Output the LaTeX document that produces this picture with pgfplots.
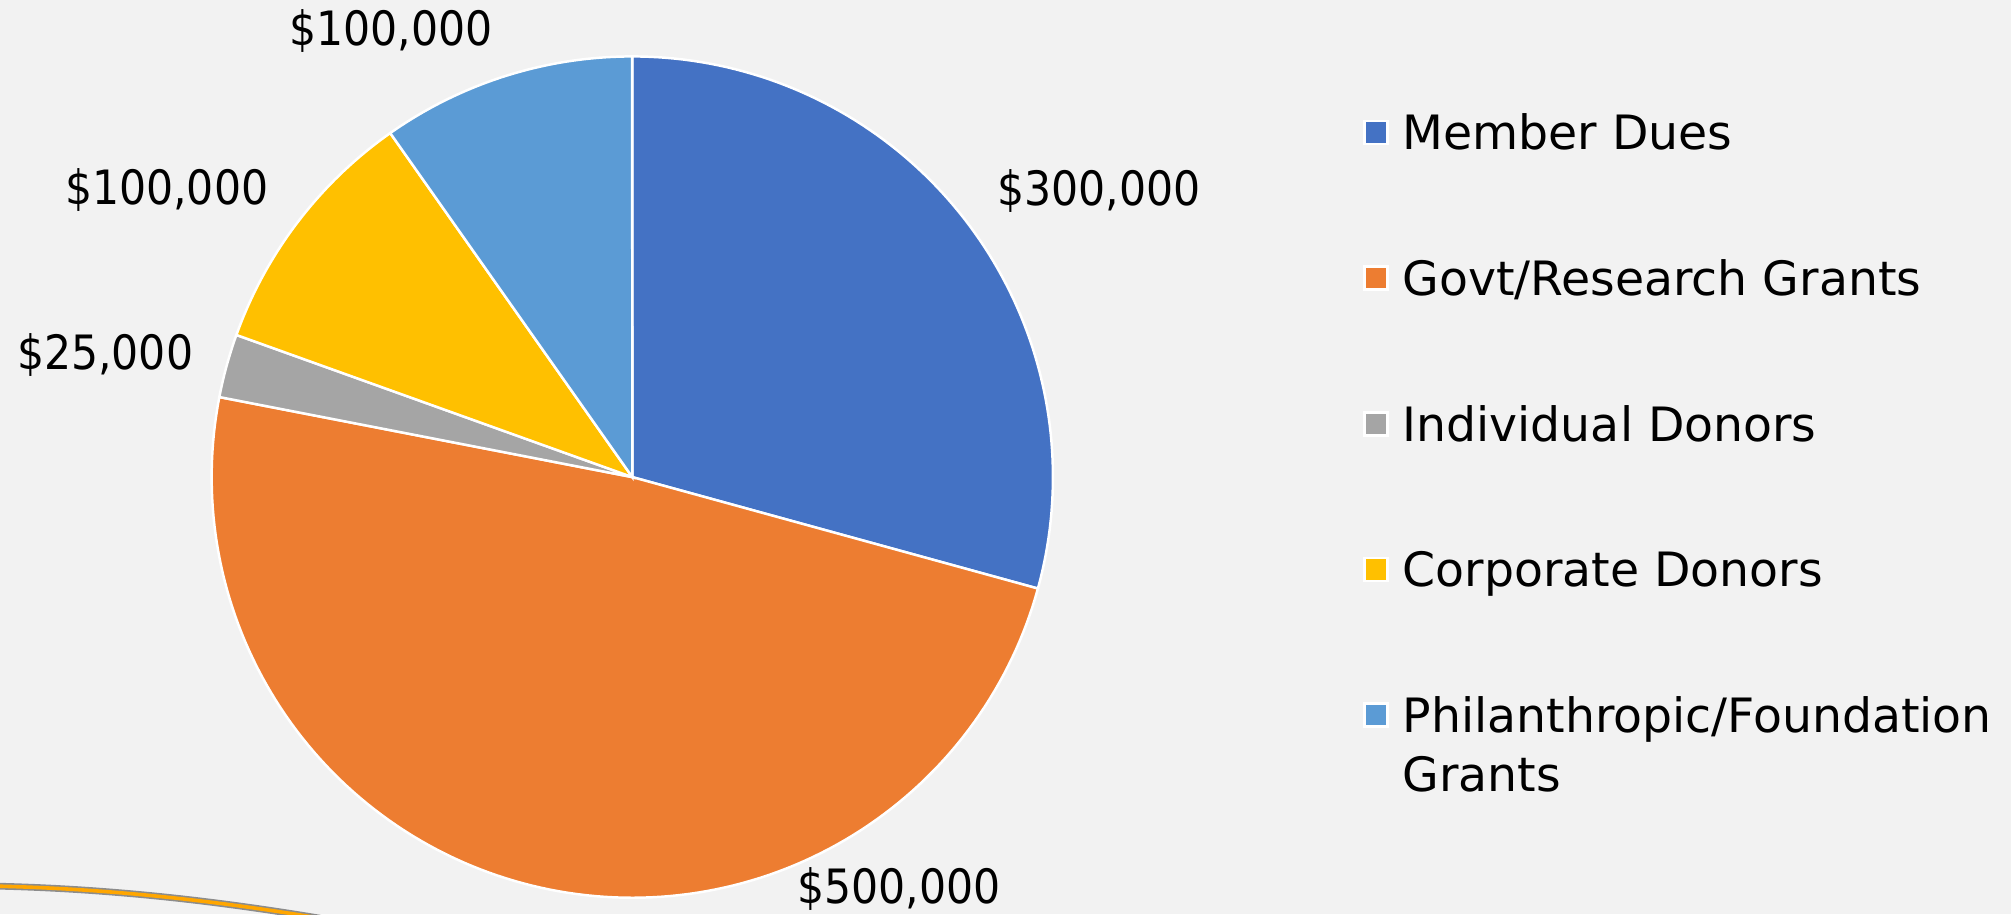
\documentclass[border=0pt]{standalone}
\usepackage{fontspec}
\setmainfont{DejaVu Sans}
\newfontfamily\cond{DejaVu Sans Condensed}
\usepackage{pgfplots}
\pgfplotsset{compat=1.18}
\definecolor{bgc}{HTML}{F2F2F2}
\definecolor{c1}{HTML}{4472C4}
\definecolor{c2}{HTML}{ED7D31}
\definecolor{c3}{HTML}{A5A5A5}
\definecolor{c4}{HTML}{FFC000}
\definecolor{c5}{HTML}{5B9BD5}
% values in thousands of dollars
\def\vA{300}\def\vB{500}\def\vC{25}\def\vD{100}\def\vE{100}
\pgfmathsetmacro\tot{\vA+\vB+\vC+\vD+\vE}
\pgfmathsetmacro\aA{90}
\pgfmathsetmacro\aB{\aA-\vA/\tot*360}
\pgfmathsetmacro\aC{\aB-\vB/\tot*360}
\pgfmathsetmacro\aD{\aC-\vC/\tot*360}
\pgfmathsetmacro\aE{\aD-\vD/\tot*360}
\pgfmathsetmacro\aF{\aE-\vE/\tot*360}
\def\cx{493}\def\cy{341}\def\R{328}
\newcommand\lab{\cond\fontsize{10.5}{12.6}\selectfont}
\begin{document}
\begin{tikzpicture}
\fill[bgc] (0,0) rectangle (156.8mm,71.3mm);
\begin{axis}[
  width=156.8mm, height=71.3mm, scale only axis,
  xmin=0, xmax=1568, ymin=0, ymax=713,
  hide axis, clip=false,
  legend image code/.code={\draw[#1, draw=white, line width=0.6pt] (0pt,-1.37pt) rectangle (5.1pt,3.73pt);},
  legend style={at={(axis cs:1063,623)}, anchor=north west, draw=none, fill=none,
    inner sep=0pt, outer sep=0pt, row sep=22.3pt, column sep=3pt,
    font=\fontsize{10.5}{13.2}\selectfont,
    nodes={inner sep=0pt, outer sep=0pt, text height=7.65pt, text depth=2.35pt}},
  legend cell align=left,
]
\addplot[fill=c1, draw=white, line width=0.55pt, domain=\aB:\aA, samples=90, variable=\t]
  ({\cx+\R*cos(\t)},{\cy+\R*sin(\t)}) -- (axis cs:\cx,\cy) -- cycle;
\addplot[fill=c2, draw=white, line width=0.55pt, domain=\aC:\aB, samples=140, variable=\t]
  ({\cx+\R*cos(\t)},{\cy+\R*sin(\t)}) -- (axis cs:\cx,\cy) -- cycle;
\addplot[fill=c3, draw=white, line width=0.55pt, domain=\aD:\aC, samples=12, variable=\t]
  ({\cx+\R*cos(\t)},{\cy+\R*sin(\t)}) -- (axis cs:\cx,\cy) -- cycle;
\addplot[fill=c4, draw=white, line width=0.55pt, domain=\aE:\aD, samples=40, variable=\t]
  ({\cx+\R*cos(\t)},{\cy+\R*sin(\t)}) -- (axis cs:\cx,\cy) -- cycle;
\addplot[fill=c5, draw=white, line width=0.55pt, domain=\aF:\aE, samples=40, variable=\t]
  ({\cx+\R*cos(\t)},{\cy+\R*sin(\t)}) -- (axis cs:\cx,\cy) -- cycle;
\legend{Member Dues, Govt/Research Grants, Individual Donors, Corporate Donors,
  {\begin{tabular}[t]{@{}l@{}}Philanthropic/Foundation\\Grants\end{tabular}}}
\end{axis}
\node[font=\lab, inner sep=0pt] at (30.5mm,68.9mm) {\$100,000};
\node[font=\lab, inner sep=0pt] at (13.0mm,56.5mm) {\$100,000};
\node[font=\lab, inner sep=0pt] at (8.2mm,43.6mm) {\$25,000};
\node[font=\lab, inner sep=0pt] at (85.7mm,56.4mm) {\$300,000};
\node[font=\lab, inner sep=0pt] at (70.1mm,2.0mm) {\$500,000};
\draw[black!45, line width=1.5pt] (0mm,2.2mm) .. controls (8mm,2.0mm) and (16mm,1.2mm) .. (25mm,-0.3mm);
\draw[orange!70!yellow, line width=0.8pt] (0mm,2.2mm) .. controls (8mm,2.0mm) and (16mm,1.2mm) .. (25mm,-0.3mm);
\pgfresetboundingbox
\useasboundingbox (0,0) rectangle (156.8mm,71.3mm);
\end{tikzpicture}
\end{document}
